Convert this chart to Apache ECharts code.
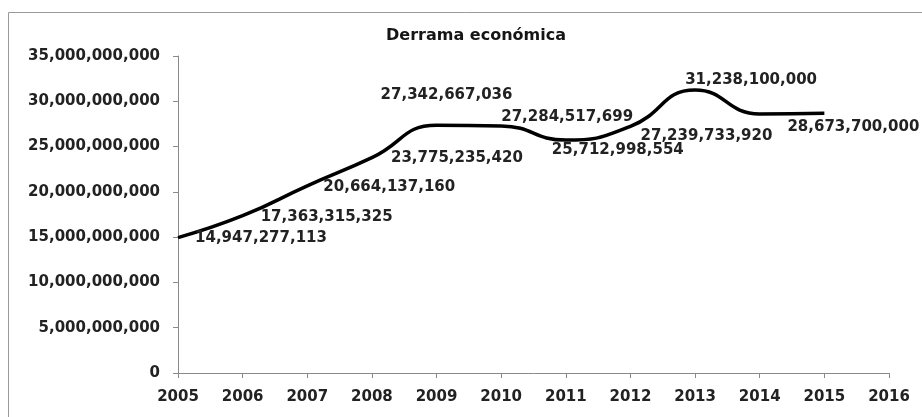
<!DOCTYPE html>
<html>
<head>
<meta charset="utf-8">
<script src="https://cdn.jsdelivr.net/npm/echarts@6/dist/echarts.min.js"></script>
<style>html,body{margin:0;padding:0;background:#fff}#c{width:922px;height:417px}</style>
</head>
<body>
<div id="c"></div>
<script>
const years = ['2005','2006','2007','2008','2009','2010','2011','2012','2013','2014','2015','2016'];
const derrama = [14947277113, 17363315325, 20664137160, 23775235420, 27342667036, 27284517699, 25712998554, 27239733920, 31238100000, 28600000000, 28673700000];
const showLabel = [true, true, true, true, true, true, true, true, true, false, true];
const labelOffsets = [[83,0],[84,1],[82,1],[85,0],[10,-30],[66,-9],[52,10],[76,10],[56,-10],[0,0],[29,14]];
const yTicks = { min: 0, max: 35000000000, interval: 5000000000 };
const titleText = 'Derrama económica';

const fmt = v => String(Math.round(v)).replace(/\B(?=(\d{3})+(?!\d))/g, ',');
const font = 'DejaVu Sans';

const seriesData = derrama.map((v, i) => ({
  value: v,
  label: { show: showLabel[i], offset: labelOffsets[i] }
}));

const chart = echarts.init(document.getElementById('c'), null, { renderer: 'canvas' });
chart.setOption({
  animation: false,
  backgroundColor: '#fff',
  title: {
    text: titleText, left: 471, top: 23, textAlign: 'center',
    textStyle: { fontFamily: font, fontSize: 16, fontWeight: 'bold', color: '#151515' }
  },
  graphic: [{
    type: 'rect', shape: { x: 8.5, y: 12.5, width: 940, height: 440 },
    style: { fill: 'none', stroke: '#9a9a9a', lineWidth: 1 }, silent: true, z: -1
  }],
  grid: { left: 178, right: 33, top: 56, bottom: 44, containLabel: false },
  xAxis: {
    type: 'category', data: years, boundaryGap: false,
    axisLine: { lineStyle: { color: '#8a8a8a', width: 1 } },
    axisTick: { show: true, length: 5, lineStyle: { color: '#8a8a8a' }, alignWithLabel: true },
    axisLabel: { margin: 17, fontFamily: font, fontSize: 15, fontWeight: 'bold', color: '#222', interval: 0 },
    splitLine: { show: false }
  },
  yAxis: {
    type: 'value', min: yTicks.min, max: yTicks.max, interval: yTicks.interval,
    axisLine: { show: true, lineStyle: { color: '#8a8a8a', width: 1 } },
    axisTick: { show: true, length: 5, lineStyle: { color: '#8a8a8a' } },
    axisLabel: { margin: 18, fontFamily: font, fontSize: 15, fontWeight: 'bold', color: '#222', formatter: fmt },
    splitLine: { show: false }
  },
  series: [{
    type: 'line', data: seriesData, smooth: 0.5,
    symbol: 'circle', symbolSize: 1, showSymbol: true,
    itemStyle: { color: 'rgba(0,0,0,0)' },
    lineStyle: { color: '#000', width: 3.5 },
    label: {
      show: true, position: 'inside', formatter: p => fmt(p.value),
      fontFamily: font, fontSize: 15, fontWeight: 'bold', color: '#222'
    },
    emphasis: { disabled: true }
  }]
});
</script>
</body>
</html>
